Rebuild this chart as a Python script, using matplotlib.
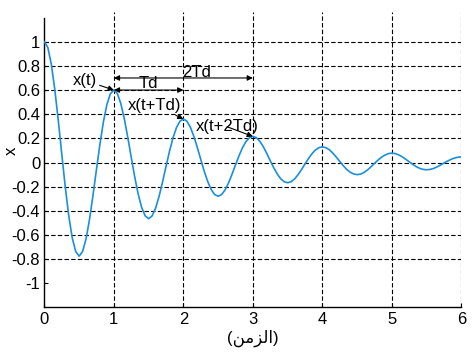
import numpy as np
import matplotlib
matplotlib.use("Agg")
import matplotlib.pyplot as plt

plt.rcParams['font.family'] = ['Liberation Sans', 'DejaVu Sans']

t_start, t_end, n_samples = 0.0, 6.0, 121
x_values = [
    1.000, 0.952, 0.814, 0.605, 0.349, 0.072, -0.199, -0.437, -0.621, -0.736,
    -0.775, -0.737, -0.631, -0.469, -0.270, -0.055, 0.154, 0.338, 0.481, 0.570,
    0.600, 0.571, 0.488, 0.363, 0.209, 0.043, -0.119, -0.262, -0.372, -0.441,
    -0.465, -0.442, -0.378, -0.281, -0.162, -0.033, 0.092, 0.203, 0.288, 0.342,
    0.360, 0.343, 0.293, 0.218, 0.126, 0.026, -0.072, -0.157, -0.223, -0.265,
    -0.279, -0.265, -0.227, -0.169, -0.097, -0.020, 0.055, 0.122, 0.173, 0.205,
    0.216, 0.206, 0.176, 0.131, 0.075, 0.015, -0.043, -0.094, -0.134, -0.159,
    -0.167, -0.159, -0.136, -0.101, -0.058, -0.012, 0.033, 0.073, 0.104, 0.123,
    0.130, 0.123, 0.106, 0.078, 0.045, 0.009, -0.026, -0.057, -0.080, -0.095,
    -0.100, -0.096, -0.082, -0.061, -0.035, -0.007, 0.020, 0.044, 0.062, 0.074,
    0.078, 0.074, 0.063, 0.047, 0.027, 0.006, -0.015, -0.034, -0.048, -0.057,
    -0.060, -0.057, -0.049, -0.036, -0.021, -0.004, 0.012, 0.026, 0.037, 0.044,
    0.047,
]
x_ticks = [0, 1, 2, 3, 4, 5, 6]
y_ticks = [1, 0.8, 0.6, 0.4, 0.2, 0, -0.2, -0.4, -0.6, -0.8, -1]
y_tick_labels = ['1', '0.8', '0.6', '0.4', '0.2', '0', '-0.2', '-0.4', '-0.6', '-0.8', '-1']
v_grid = [1, 2, 3, 4, 5, 6]
h_grid = [1, 0.8, 0.6, 0.4, 0.2, 0, -0.2, -0.4, -0.6, -0.8]
peaks_t = [1, 2, 3]
peaks_x = [0.600, 0.360, 0.216]
peak_labels = ['x(t)', 'x(t+Td)', 'x(t+2Td)']
x_label = '(\uFEE6\uFEE3\uFEB0\uFEDF\uFE8D)'   # (الزمن) in visual order
y_label = 'x'

t = np.linspace(t_start, t_end, n_samples)

fig = plt.figure(figsize=(4.72, 3.54), dpi=100)
ax = fig.add_axes([0.094, 0.1314, 0.8835, 0.836])
ax.set_xlim(0, 6)
ax.set_ylim(-1.2, 1.25)

dash = (0, (4, 2))
for xv in v_grid:
    ax.axvline(xv, color='black', lw=0.8, ls=dash, zorder=1)
for yv in h_grid:
    ax.axhline(yv, color='black', lw=0.8, ls=dash, zorder=1)

ax.plot(t, x_values, color='#1a8fdc', lw=1.2, zorder=3)

ax.spines['top'].set_visible(False)
ax.spines['right'].set_visible(False)
ax.spines['left'].set_bounds(-1.2, 1.2)
for s in ('left', 'bottom'):
    ax.spines[s].set_linewidth(1.0)

ax.set_xticks(x_ticks)
ax.set_xticklabels([str(v) for v in x_ticks])
ax.set_yticks(y_ticks)
ax.set_yticklabels(y_tick_labels)
ax.tick_params(direction='in', length=3, width=0.8, labelsize=12, pad=3)

ax.set_xlabel(x_label, fontsize=12)
ax.xaxis.set_label_coords(0.5, -0.075)
ax.set_ylabel(y_label, fontsize=12, va='center')
ax.yaxis.set_label_coords(-0.08, 0.53)

ap = dict(arrowstyle='-|>', color='black', lw=0.8, mutation_scale=8,
          shrinkA=0, shrinkB=0)
text_pos = [(0.58, 0.68), (1.59, 0.476), (2.63, 0.296)]
for (pt, px), lab, (tx, ty) in zip(zip(peaks_t, peaks_x), peak_labels, text_pos):
    ax.annotate(lab, xy=(pt, px), xytext=(tx, ty), ha='center', va='center',
                fontsize=12, arrowprops=ap, zorder=5)

dap = dict(arrowstyle='<|-|>', color='black', lw=0.8, mutation_scale=8,
           shrinkA=0, shrinkB=0)
ax.annotate('', xy=(peaks_t[0], 0.6), xytext=(peaks_t[1], 0.6), arrowprops=dap)
ax.text(1.49, 0.655, 'Td', ha='center', va='center', fontsize=12)
ax.annotate('', xy=(peaks_t[0], 0.70), xytext=(peaks_t[2], 0.70), arrowprops=dap)
ax.text(2.19, 0.742, '2Td', ha='center', va='center', fontsize=12)

fig.savefig('out.png', dpi=100)
